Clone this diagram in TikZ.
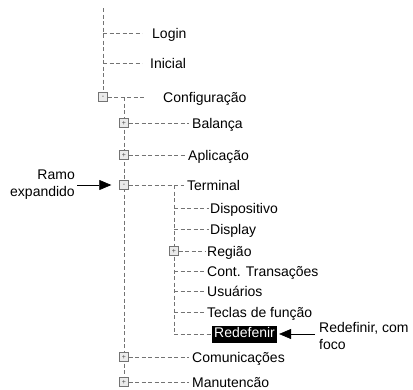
\documentclass[tikz,border=0pt]{standalone}
\usepackage{fontspec}
\setmainfont{Liberation Sans}
\usetikzlibrary{arrows.meta,positioning,backgrounds}

\begin{document}
\begin{tikzpicture}[x=1pt, y=-1pt,
  item/.style={anchor=west, inner sep=0pt, text height=10pt, text depth=0pt,
    font=\fontsize{14}{17}\selectfont},
  toggle/.style={draw=black!55, fill=black!8, minimum size=9pt, inner sep=0pt,
    font=\fontsize{7}{7}\selectfont, text=black!70},
  link/.style={draw=black!55, dash pattern=on 4pt off 2.5pt, line width=0.7pt},
  focus/.style={item, fill=black, text=white, inner xsep=2pt, inner ysep=2pt, text depth=3pt},
  callout/.style={-{Triangle[length=12pt, width=10pt]}, line width=0.6pt},
  note/.style={font=\fontsize{14}{17}\selectfont, inner sep=0pt}
]
  \useasboundingbox (0,0) rectangle (413,389);

  % top level
  \coordinate (top) at (103,8);
  \coordinate (jlogin) at (103,33);
  \coordinate (jinicial) at (103,63);
  \node[item] (login) at (152,33) {Login};
  \node[item] (inicial) at (150,63) {Inicial};
  \node[toggle] (cfgbox) at (103,97) {-};
  \node[item] (config) at (163,97) {Configuração};

  % Configuração branch
  \coordinate (jcfg) at (124,97);
  \node[toggle] (balbox) at (124,123) {+};
  \node[item] (balanca) at (192,123) {Balança};
  \node[toggle] (aplbox) at (124,155) {+};
  \node[item] (aplicacao) at (188,155) {Aplicação};
  \node[toggle] (termbox) at (124,185) {-};
  \node[item] (terminal) at (187,185) {Terminal};
  \node[toggle] (combox) at (124,357) {+};
  \node[item] (comunic) at (192,357) {Comunicações};
  \node[toggle] (manbox) at (124,382) {+};
  \node[item] (manut) at (192,382) {Manutencão};

  % Terminal branch
  \coordinate (jterm) at (174,185);
  \coordinate (jdisp) at (174,208);
  \coordinate (jdisplay) at (174,229);
  \coordinate (jcont) at (174,271);
  \coordinate (jusu) at (174,291);
  \coordinate (jteclas) at (174,312);
  \coordinate (jredef) at (174,334);
  \node[item] (dispositivo) at (210,208) {Dispositivo};
  \node[item] (display) at (210,229) {Display};
  \node[toggle] (regbox) at (174,251) {+};
  \node[item] (regiao) at (207,251) {Região};
  \node[item] (cont) at (207,271) {Cont. Transações};
  \node[item] (usuarios) at (207,291) {Usuários};
  \node[item] (teclas) at (207,312) {Teclas de função};
  \node[focus] (redef) at (212,334) {Redefenir};

  % callouts
  \node[note, anchor=east, align=right] (ramo) at (75,185) {Ramo\\expandido};
  \node[note, anchor=north west, align=left] (focusnote) at (319,322) {Redefinir, com\\foco};
  \draw[callout, shorten <=2pt, shorten >=8pt] (ramo.east) -- (termbox.west);
  \draw[callout, shorten <=4pt, shorten >=2pt] (focusnote.west |- redef.east) -- (redef.east);

  \begin{scope}[on background layer]
    \draw[link] (top) -- (cfgbox);
    \draw[link, shorten >=10pt] (jlogin) -- (login);
    \draw[link, shorten >=8pt] (jinicial) -- (inicial);
    \draw[link, shorten >=18pt] (cfgbox) -- (config);
    \draw[link] (jcfg) -- (manbox);
    \foreach \b/\t in {balbox/balanca, aplbox/aplicacao, termbox/terminal,
        combox/comunic, manbox/manut} {
      \draw[link, shorten >=3pt] (\b) -- (\t);
    }
    \draw[link] (jterm) -- (jredef);
    \foreach \j/\t in {jdisp/dispositivo, jdisplay/display, regbox/regiao,
        jcont/cont, jusu/usuarios, jteclas/teclas, jredef/redef} {
      \draw[link, shorten >=1pt] (\j) -- (\t);
    }
  \end{scope}
\end{tikzpicture}
\end{document}
